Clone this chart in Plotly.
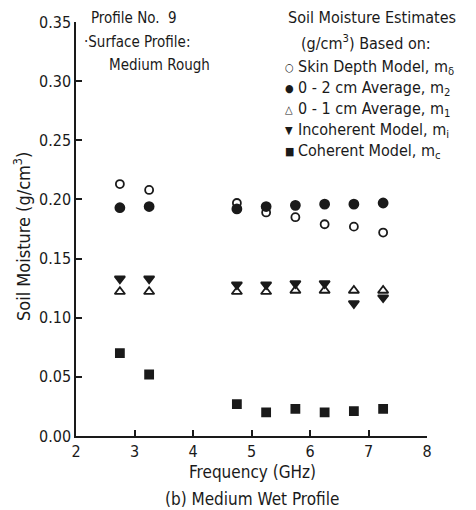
import plotly.graph_objects as go

freq = [2.75, 3.25, 4.75, 5.25, 5.75, 6.25, 6.75, 7.25]
skin_depth = [0.213, 0.208, 0.197, 0.189, 0.185, 0.179, 0.177, 0.172]
avg_0_2 = [0.193, 0.194, 0.192, 0.194, 0.195, 0.196, 0.196, 0.197]
avg_0_1 = [0.122, 0.122, 0.122, 0.122, 0.123, 0.123, 0.123, 0.123]
incoherent = [0.133, 0.133, 0.128, 0.128, 0.129, 0.129, 0.112, 0.117]
coherent = [0.070, 0.052, 0.027, 0.020, 0.023, 0.020, 0.021, 0.023]

x_ticks = [2, 3, 4, 5, 6, 7, 8]
y_ticks = [0.00, 0.05, 0.10, 0.15, 0.20, 0.25, 0.30, 0.35]
y_tick_text = ["0.00", "0.05", "0.10", "0.15", "0.20", "0.25", "0.30", "0.35"]

FONT = "DejaVu Sans Condensed, Liberation Sans Narrow, Arial Narrow, sans-serif"
INK = "#1a1a1a"

series = [
    ("Skin Depth Model, m<sub>δ</sub>", skin_depth, "circle-open", 8, "○"),
    ("0 - 2 cm Average, m<sub>2</sub>", avg_0_2, "circle", 9, "●"),
    ("0 - 1 cm Average, m<sub>1</sub>", avg_0_1, "triangle-up-open", 9, "△"),
    ("Incoherent Model, m<sub>i</sub>", incoherent, "triangle-down", 9, "▼"),
    ("Coherent Model, m<sub>c</sub>", coherent, "square", 8, "■"),
]

# plot area in pixels
L, R, T, B = 76, 427, 22, 436
W, H = 476, 510
pw, ph = R - L, B - T

def px(xp):
    return (xp - L) / pw

def py(yp):
    return (B - yp) / ph

fig = go.Figure()
for name, vals, sym, sz, glyph in series:
    fig.add_trace(go.Scatter(
        x=freq, y=vals, mode="markers", name=name,
        marker=dict(symbol=sym, size=sz, color=INK,
                    line=dict(color=INK, width=1.8)),
    ))

annotations = [
    dict(text="Profile No.  9", x=px(89), y=py(18), font=dict(size=15)),
    dict(text="·Surface Profile:", x=px(82), y=py(42), font=dict(size=15)),
    dict(text="Medium Rough", x=px(107), y=py(65), font=dict(size=15)),
    dict(text="Soil Moisture Estimates", x=px(286), y=py(18)),
    dict(text="(g/cm<sup>3</sup>) Based on:", x=px(299), y=py(42)),
]
leg_rows = [67, 88, 109, 130, 152]
for (name, vals, sym, sz, glyph), yr in zip(series, leg_rows):
    annotations.append(dict(text=glyph, x=px(283), y=py(yr), font=dict(size=11)))
    annotations.append(dict(text=name, x=px(296), y=py(yr)))

for a in annotations:
    a.update(xref="paper", yref="paper", xanchor="left", yanchor="middle",
             showarrow=False, align="left")
    a.setdefault("font", dict(size=16))

annotations += [
    dict(text="Frequency (GHz)", x=px(252), y=py(472), xref="paper", yref="paper",
         xanchor="center", yanchor="middle", showarrow=False, font=dict(size=17)),
    dict(text="(b) Medium Wet Profile", x=px(252), y=py(499), xref="paper", yref="paper",
         xanchor="center", yanchor="middle", showarrow=False, font=dict(size=17)),
    dict(text="Soil Moisture (g/cm<sup>3</sup>)", x=px(22), y=py(237), xref="paper",
         yref="paper", xanchor="center", yanchor="middle", textangle=-90,
         showarrow=False, font=dict(size=18)),
]

fig.update_layout(
    width=W, height=H,
    margin=dict(l=L, r=W - R, t=T, b=H - B),
    paper_bgcolor="white", plot_bgcolor="white",
    font=dict(family=FONT, size=15, color=INK),
    showlegend=False,
    xaxis=dict(
        range=[2, 8], tickvals=x_ticks, ticktext=[str(v) for v in x_ticks],
        showgrid=False, zeroline=False, showline=True, linecolor=INK, linewidth=1.5,
        ticks="inside", ticklen=6, tickcolor=INK, tickwidth=1.5, automargin=False,
        tickfont=dict(size=16),
    ),
    yaxis=dict(
        range=[0, 0.35], tickvals=y_ticks, ticktext=y_tick_text,
        showgrid=False, zeroline=False, showline=True, linecolor=INK, linewidth=1.5,
        ticks="inside", ticklen=6, tickcolor=INK, tickwidth=1.5, automargin=False,
        tickfont=dict(size=16),
    ),
    annotations=annotations,
)

fig.write_html("out.html", config={"displayModeBar": False},
               post_script="document.body.style.margin='0';document.body.style.overflow='hidden';")
